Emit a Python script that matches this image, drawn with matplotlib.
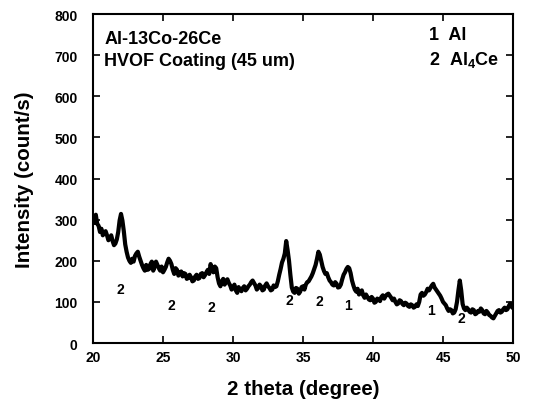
"""XRD pattern of Al-13Co-26Ce HVOF coating."""

import numpy as np
import matplotlib
matplotlib.use("Agg")
import matplotlib.pyplot as plt

plt.rcParams.update({
    "font.family": "Liberation Sans",
    "font.weight": "bold",
    "mathtext.fontset": "custom",
    "mathtext.rm": "Liberation Sans:bold",
    "mathtext.default": "rm",
})

# Intensity every 0.1 degree from 20 to 50
intensity = [
    300, 292, 312, 290, 285, 270, 278, 262, 268, 272,
    262, 250, 255, 262, 248, 238, 242, 252, 270, 298,
    314, 298, 272, 240, 222, 208, 200, 195, 205, 198,
    212, 218, 222, 210, 200, 190, 182, 176, 190, 178,
    180, 192, 198, 176, 185, 198, 190, 182, 176, 186,
    172, 178, 185, 196, 205, 200, 192, 178, 168, 182,
    178, 164, 170, 174, 162, 170, 168, 156, 158, 166,
    160, 150, 152, 162, 166, 156, 158, 168, 170, 160,
    165, 172, 178, 168, 192, 180, 172, 186, 182, 160,
    145, 138, 150, 156, 142, 150, 155, 146, 140, 130,
    135, 142, 128, 122, 136, 130, 126, 134, 138, 128,
    132, 138, 142, 148, 152, 146, 140, 130, 134, 142,
    138, 128, 130, 140, 145, 138, 134, 128, 130, 140,
    136, 138, 150, 166, 180, 196, 205, 218, 248, 226,
    200, 165, 135, 125, 122, 134, 132, 120, 125, 136,
    138, 130, 142, 148, 150, 156, 162, 170, 180, 190,
    205, 222, 215, 200, 185, 175, 168, 170, 160, 152,
    148, 142, 140, 148, 144, 135, 136, 142, 155, 166,
    172, 180, 185, 182, 170, 152, 140, 130, 125, 132,
    118, 122, 128, 116, 110, 118, 112, 106, 104, 112,
    108, 98, 100, 108, 106, 102, 112, 116, 108, 114,
    118, 120, 115, 110, 104, 108, 100, 94, 96, 104,
    102, 95, 92, 98, 96, 90, 88, 94, 92, 86,
    88, 94, 90, 100, 118, 122, 115, 118, 124, 132,
    128, 134, 140, 144, 135, 130, 125, 120, 115, 108,
    100, 96, 92, 84, 78, 82, 80, 72, 74, 82,
    100, 128, 152, 128, 95, 84, 80, 86, 82, 76,
    74, 82, 80, 70, 72, 78, 76, 84, 80, 72,
    70, 78, 74, 68, 66, 62, 60, 66, 72, 78,
    80, 74, 76, 82, 86, 80, 82, 90, 96, 88,
    85,
]
two_theta = np.linspace(20, 50, len(intensity))

# Phase markers: (label, 2theta, intensity)
peak_labels = ["2", "2", "2", "2", "2", "1", "1", "2"]
peak_x = [21.95, 25.6, 28.45, 34.0, 36.2, 38.2, 44.15, 46.3]
peak_y = [131, 92, 87, 105, 103, 92, 81, 62]

fig = plt.figure(figsize=(5.33, 4.06), dpi=100)
ax = fig.add_axes([0.1745, 0.1527, 0.788, 0.81])

ax.plot(two_theta, intensity, color="black", lw=3.0)

for lab, x, y in zip(peak_labels, peak_x, peak_y):
    ax.text(x, y, lab, ha="center", va="center", fontsize=10, fontweight="bold")

ax.text(20.8, 741, "Al-13Co-26Ce", ha="left", va="center", fontsize=13)
ax.text(20.8, 688, "HVOF Coating (45 um)", ha="left", va="center", fontsize=13)
ax.text(44.0, 751, "1  Al", ha="left", va="center", fontsize=13)
ax.text(44.0, 690, "2  Al$_4$Ce", ha="left", va="center", fontsize=13)

ax.set_xlim(20, 50)
ax.set_ylim(0, 800)
ax.set_xticks(range(20, 51, 5))
ax.set_yticks(range(0, 801, 100))
ax.tick_params(direction="in", length=5, width=1.2, top=True, right=True,
               labelsize=10)
ax.tick_params(axis="x", pad=5)
ax.tick_params(axis="y", pad=11)
for s in ax.spines.values():
    s.set_linewidth(1.5)

ax.set_xlabel("2 theta (degree)", fontsize=14.8, fontweight="bold", labelpad=11)
ax.set_ylabel("Intensity (count/s)", fontsize=14.8, fontweight="bold", labelpad=15)

fig.savefig("out.png", dpi=100)
